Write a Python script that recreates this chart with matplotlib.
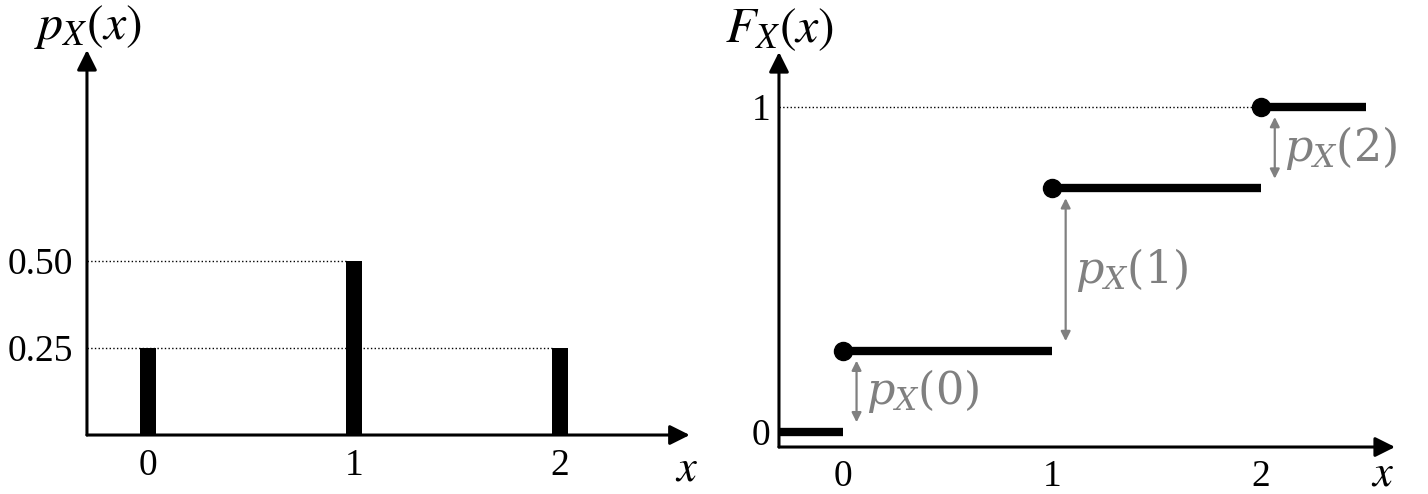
import numpy as np
import matplotlib
matplotlib.use("Agg")
import matplotlib.pyplot as plt

plt.rcParams['font.family'] = ['Liberation Serif', 'DejaVu Serif']
plt.rcParams['mathtext.fontset'] = 'stix'

# datos de la distribucion
valores = [0, 1, 2]
pmf = [0.25, 0.50, 0.25]
cdf = np.cumsum(pmf)
yticks_pmf = [0.25, 0.50]
ytick_labels_pmf = ["0.25", "0.50"]
yticks_cdf = [0, 1]
etiquetas_salto = [r"$p_X(0)$", r"$p_X(1)$", r"$p_X(2)$"]

gris = "#808080"

fig = plt.figure(figsize=(14.28, 4.94), dpi=100)

# ejes con flecha al final
def ejes_flecha(ax):
    for s in ax.spines.values():
        s.set_visible(False)
    kw = dict(arrowstyle='-|>', lw=2.2, color='k', mutation_scale=30,
              shrinkA=0, shrinkB=0)
    ax.annotate("", xy=(1, 0), xytext=(0, 0), xycoords='axes fraction',
                arrowprops=kw, annotation_clip=False)
    ax.annotate("", xy=(0, 1), xytext=(0, 0), xycoords='axes fraction',
                arrowprops=kw, annotation_clip=False)
    ax.tick_params(length=0, labelsize=27)

# ---- funcion de masa de probabilidad ----
ax1 = fig.add_axes([0.0609, 0.1194, 0.4221, 0.7794])
ejes_flecha(ax1)
ancho = 0.08
ax1.bar(valores, pmf, width=ancho, color='k')
ax1.set_xlim(-0.296, 2.63)
ax1.set_ylim(0, 1.106)
# lineas punteadas hasta la barra
ax1.plot([-0.296, valores[1] - ancho / 2], [pmf[1], pmf[1]], ls=':', lw=1, color='k')
ax1.plot([-0.296, valores[2] - ancho / 2], [pmf[0], pmf[0]], ls=':', lw=1, color='k')
ax1.set_xticks(valores)
ax1.set_xticklabels([str(v) for v in valores])
ax1.set_yticks(yticks_pmf)
ax1.set_yticklabels(ytick_labels_pmf)
ax1.tick_params(axis='x', pad=10)
ax1.tick_params(axis='y', pad=10)
ax1.text(0.995, -0.09, r"$x$", transform=ax1.transAxes, fontsize=32,
         ha='center', va='center')
fig.text(88 / 1428, 1 - 27 / 494, r"$p_X(x)$", fontsize=36,
         ha='center', va='center')

# ---- funcion de distribucion acumulada ----
ax2 = fig.add_axes([0.5455, 0.0951, 0.4314, 0.7996])
ejes_flecha(ax2)
x0, x1 = -0.306, 2.64
ax2.set_xlim(x0, x1)
ax2.set_ylim(-0.046, 1.17)
inicios = [x0] + valores
finales = valores + [2.5]
niveles = [0] + list(cdf)
for a, b, y in zip(inicios, finales, niveles):
    ax2.plot([a, b], [y, y], color='k', lw=6, solid_capstyle='butt')
ax2.plot(valores, cdf, 'o', color='k', ms=13)
ax2.plot([x0, valores[2]], [1, 1], ls=':', lw=1, color='k')
# saltos en gris
bajos = [0] + list(cdf[:-1])
for v, lo, hi, etq in zip(valores, bajos, cdf, etiquetas_salto):
    xa = v + 0.065
    ax2.annotate("", xy=(xa, hi - 0.03), xytext=(xa, lo + 0.03),
                 arrowprops=dict(arrowstyle='<|-|>', color=gris, lw=1.6,
                                 mutation_scale=14, shrinkA=0, shrinkB=0))
    ax2.text(v + 0.11, (lo + hi) / 2, etq, color=gris, fontsize=32,
             math_fontfamily='dejavuserif', ha='left', va='center')
ax2.set_xticks(valores)
ax2.set_xticklabels([str(v) for v in valores])
ax2.set_yticks(yticks_cdf)
ax2.set_yticklabels([str(v) for v in yticks_cdf])
ax2.tick_params(axis='x', pad=9)
ax2.tick_params(axis='y', pad=6)
ax2.text(0.98, -0.07, r"$x$", transform=ax2.transAxes, fontsize=32,
         ha='center', va='center')
fig.text(780 / 1428, 1 - 30 / 494, r"$F_X(x)$", fontsize=36,
         ha='center', va='center')

fig.savefig("out.png", dpi=100)
